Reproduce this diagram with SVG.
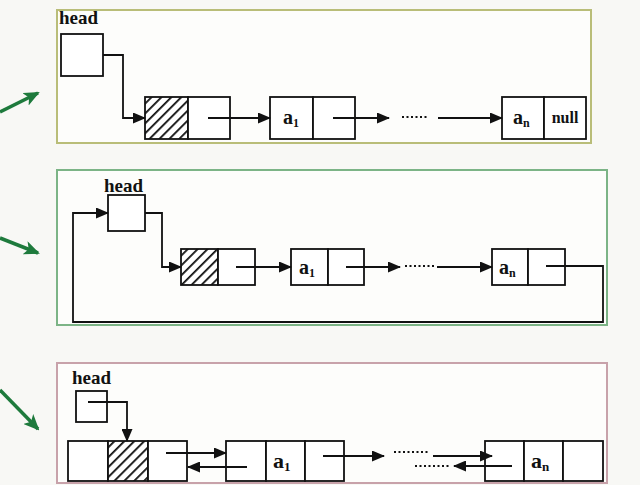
<svg xmlns="http://www.w3.org/2000/svg" width="640" height="485" viewBox="0 0 640 485">
<defs>
<pattern id="hatch" patternUnits="userSpaceOnUse" width="7" height="7" patternTransform="rotate(45)">
<rect width="7" height="7" fill="#fff"/>
<rect x="0" y="0" width="1.8" height="7" fill="#111"/>
</pattern>
<marker id="ah" markerWidth="13" markerHeight="11" refX="12" refY="5.5" orient="auto" markerUnits="userSpaceOnUse">
<path d="M0,0 L13,5.5 L0,11 Z" fill="#111"/>
</marker>
<marker id="gh" markerWidth="16" markerHeight="14" refX="14" refY="7" orient="auto" markerUnits="userSpaceOnUse">
<path d="M0,0 L16,7 L0,14 L4,7 Z" fill="#1e7a3c"/>
</marker>
</defs>
<style>
.cell{fill:#fff;stroke:#111;stroke-width:1.8}
.h{fill:url(#hatch);stroke:#111;stroke-width:1.8}
.ar{fill:none;stroke:#111;stroke-width:1.8;marker-end:url(#ah)}
.dot{fill:none;stroke:#111;stroke-width:2.2;stroke-dasharray:2 2.5}
.t{font-family:"Liberation Serif",serif;font-weight:bold;fill:#111}
.g{fill:none;stroke:#1e7a3c;stroke-width:3.5;marker-end:url(#gh)}
</style>
<rect width="640" height="485" fill="#f8f8f5"/>

<g id="green-arrows">
<line class="g" x1="0" y1="112" x2="38" y2="93"/>
<line class="g" x1="0" y1="238" x2="38" y2="253"/>
<line class="g" x1="0" y1="390" x2="38" y2="429"/>
</g>

<g id="panel1">
<rect x="57" y="10" width="534" height="133" fill="#fdfdfb" stroke="#b9bd78" stroke-width="2"/>
<g id="p1-head">
<text class="t" x="59" y="24" font-size="19">head</text>
<rect class="cell" x="61" y="34" width="42" height="42"/>
</g>
<g id="p1-hnode">
<rect class="h" x="145" y="97" width="43" height="42"/>
<rect class="cell" x="188" y="97" width="42" height="42"/>
</g>
<g id="p1-a1">
<rect class="cell" x="270" y="97" width="43" height="42"/>
<rect class="cell" x="313" y="97" width="42" height="42"/>
<text class="t" x="283" y="124" font-size="20">a<tspan font-size="12" dy="3">1</tspan></text>
</g>
<g id="p1-an">
<rect class="cell" x="502" y="97" width="42" height="42"/>
<rect class="cell" x="544" y="97" width="42" height="42"/>
<text class="t" x="513" y="124" font-size="20">a<tspan font-size="12" dy="3">n</tspan></text>
<text class="t" x="565" y="123" font-size="16" text-anchor="middle">null</text>
</g>
<g id="p1-connectors">
<polyline class="ar" points="103,55 123,55 123,118 145,118"/>
<line class="ar" x1="208" y1="118" x2="270" y2="118"/>
<line class="ar" x1="333" y1="118" x2="389" y2="118"/>
<line class="dot" x1="402" y1="117" x2="429" y2="117"/>
<line class="ar" x1="438" y1="118" x2="502" y2="118"/>
</g>
</g>

<g id="panel2">
<rect x="57" y="170" width="550" height="155" fill="#fdfdfb" stroke="#7cb486" stroke-width="2"/>
<g id="p2-head">
<text class="t" x="104" y="192" font-size="19">head</text>
<rect class="cell" x="108" y="195" width="37" height="36"/>
</g>
<g id="p2-hnode">
<rect class="h" x="181" y="249" width="37" height="36"/>
<rect class="cell" x="218" y="249" width="37" height="36"/>
</g>
<g id="p2-a1">
<rect class="cell" x="291" y="249" width="37" height="36"/>
<rect class="cell" x="328" y="249" width="36" height="36"/>
<text class="t" x="299" y="274" font-size="20">a<tspan font-size="12" dy="3">1</tspan></text>
</g>
<g id="p2-an">
<rect class="cell" x="492" y="249" width="36" height="36"/>
<rect class="cell" x="528" y="249" width="37" height="36"/>
<text class="t" x="499" y="274" font-size="20">a<tspan font-size="12" dy="3">n</tspan></text>
</g>
<g id="p2-connectors">
<polyline class="ar" points="145,213 162,213 162,267 181,267"/>
<line class="ar" x1="236" y1="267" x2="291" y2="267"/>
<line class="ar" x1="346" y1="267" x2="400" y2="267"/>
<line class="dot" x1="405" y1="266" x2="434" y2="266"/>
<line class="ar" x1="437" y1="267" x2="492" y2="267"/>
<polyline class="ar" points="546,266 603,266 603,322 73,322 73,213 108,213"/>
</g>
</g>

<g id="panel3">
<rect x="57" y="363" width="550" height="120" fill="#fdfdfb" stroke="#c8a2aa" stroke-width="2"/>
<g id="p3-head">
<text class="t" x="72" y="384" font-size="19">head</text>
<rect class="cell" x="76" y="391" width="31" height="31"/>
</g>
<g id="p3-hnode">
<rect class="cell" x="68" y="441" width="40" height="40"/>
<rect class="h" x="108" y="441" width="40" height="40"/>
<rect class="cell" x="148" y="441" width="39" height="40"/>
</g>
<g id="p3-a1">
<rect class="cell" x="226" y="441" width="40" height="40"/>
<rect class="cell" x="266" y="441" width="39" height="40"/>
<rect class="cell" x="305" y="441" width="39" height="40"/>
<text class="t" x="273" y="468" font-size="22">a<tspan font-size="13" dy="3">1</tspan></text>
</g>
<g id="p3-an">
<rect class="cell" x="485" y="441" width="39" height="40"/>
<rect class="cell" x="524" y="441" width="39" height="40"/>
<rect class="cell" x="563" y="441" width="40" height="40"/>
<text class="t" x="531" y="468" font-size="22">a<tspan font-size="13" dy="3">n</tspan></text>
</g>
<g id="p3-connectors">
<polyline class="ar" points="88,402 127,402 127,441"/>
<line class="ar" x1="166" y1="453" x2="226" y2="453"/>
<line class="ar" x1="247" y1="467" x2="188" y2="467"/>
<line class="ar" x1="323" y1="456" x2="384" y2="456"/>
<line class="dot" x1="394" y1="452" x2="428" y2="452"/>
<line class="dot" x1="415" y1="466" x2="449" y2="466"/>
<line class="ar" x1="433" y1="456" x2="492" y2="456"/>
<line class="ar" x1="512" y1="466" x2="454" y2="466"/>
</g>
</g>
</svg>
